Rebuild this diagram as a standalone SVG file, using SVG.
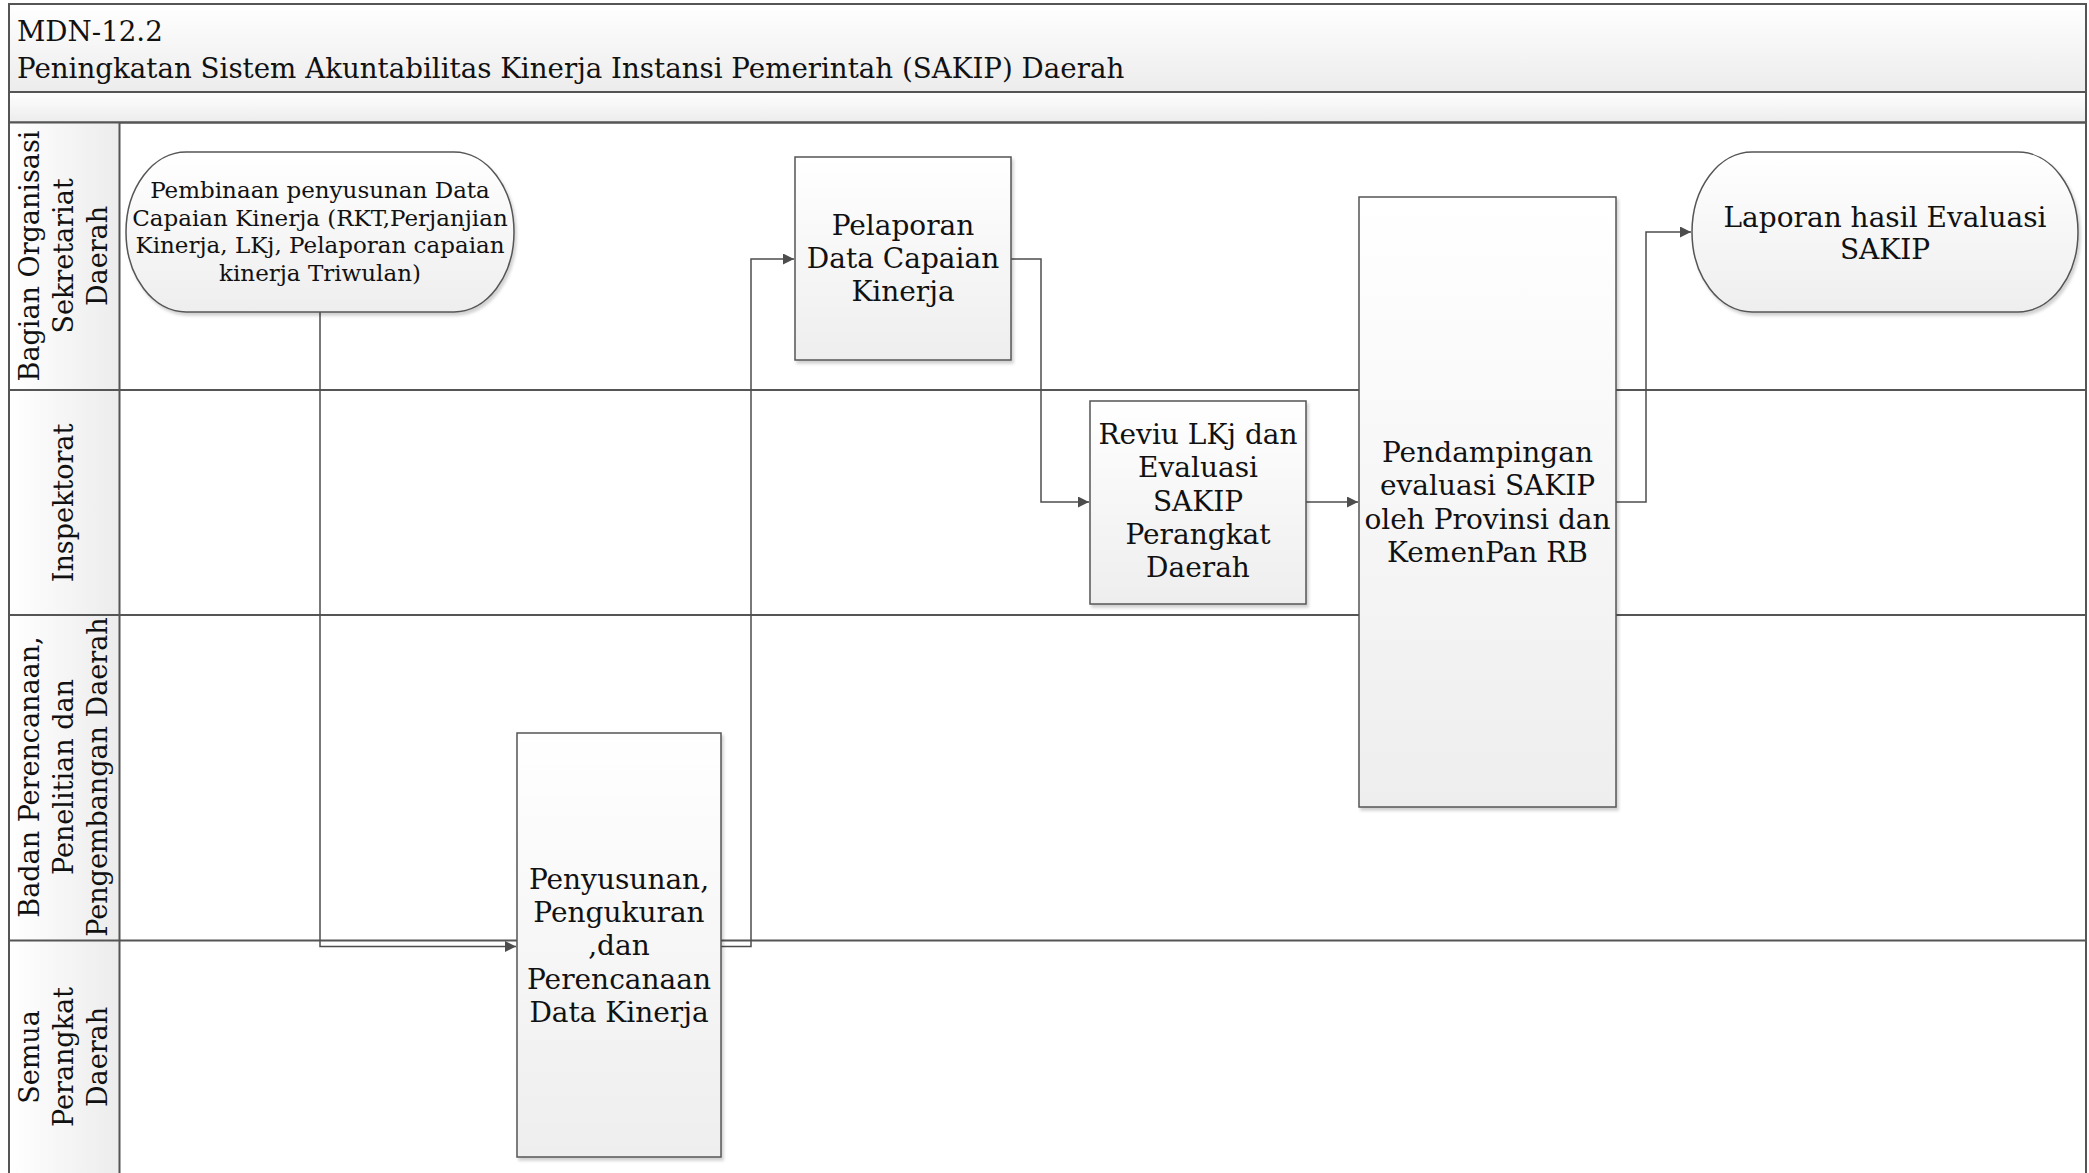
<svg xmlns="http://www.w3.org/2000/svg" width="2089" height="1173" viewBox="0 0 2089 1173">
<defs>
<linearGradient id="gV" x1="0" y1="0" x2="0" y2="1"><stop offset="0" stop-color="#ffffff"/><stop offset="1" stop-color="#ececec"/></linearGradient>
<linearGradient id="gH" x1="0" y1="0" x2="1" y2="0"><stop offset="0" stop-color="#ffffff"/><stop offset="1" stop-color="#ececec"/></linearGradient>
<linearGradient id="gBox" x1="0" y1="0" x2="0" y2="1"><stop offset="0" stop-color="#ffffff"/><stop offset="1" stop-color="#eeeeee"/></linearGradient>
<filter id="sh" x="-5%" y="-5%" width="115%" height="115%"><feDropShadow dx="2" dy="3" stdDeviation="1.5" flood-color="#000" flood-opacity="0.18"/></filter>
<marker id="arr" markerUnits="userSpaceOnUse" markerWidth="12" markerHeight="12" refX="11" refY="5.5" orient="auto"><path d="M0,0 L11,5.5 L0,11 z" fill="#4d4d4d"/></marker>
<style>
.frame{fill:none;stroke:#555;stroke-width:2}
.lane{stroke:#555;stroke-width:2;fill:none}
.box{fill:url(#gBox);stroke:#555;stroke-width:1.5;filter:url(#sh)}
.conn{fill:none;stroke:#4d4d4d;stroke-width:1.5;marker-end:url(#arr)}
.t{font-family:"DejaVu Serif","Liberation Serif",serif;fill:#111}
.n{font-size:28px;text-anchor:middle}
.s{font-size:23px;text-anchor:middle}
.l{font-size:27px;text-anchor:middle}
.h{font-size:27.7px}
</style>
</defs>
<rect width="2089" height="1173" fill="#ffffff"/>
<g id="header">
<rect x="9" y="4" width="2077" height="88" fill="url(#gV)" stroke="#555" stroke-width="2"/>
<rect x="9" y="92" width="2077" height="30.5" fill="url(#gV)" stroke="#555" stroke-width="2"/>
<text class="t h" x="17" y="41">MDN-12.2</text>
<text class="t h" x="17" y="78">Peningkatan Sistem Akuntabilitas Kinerja Instansi Pemerintah (SAKIP) Daerah</text>
</g>
<g id="lanes">
<rect x="9" y="122.5" width="110.5" height="1060" fill="url(#gH)"/>
<rect x="9" y="122.5" width="2077" height="1060" class="frame"/>
<line x1="119.5" y1="122.5" x2="119.5" y2="1180" class="lane"/>
<line x1="9" y1="390" x2="2086" y2="390" class="lane"/>
<line x1="9" y1="615" x2="2086" y2="615" class="lane"/>
<line x1="9" y1="940.5" x2="2086" y2="940.5" class="lane"/>
<g id="lane1" transform="translate(0,256) rotate(-90)">
<text class="t l" x="0" y="39">Bagian Organisasi</text>
<text class="t l" x="0" y="73">Sekretariat</text>
<text class="t l" x="0" y="107">Daerah</text>
</g>
<g id="lane2" transform="translate(0,503) rotate(-90)">
<text class="t l" x="0" y="73">Inspektorat</text>
</g>
<g id="lane3" transform="translate(0,777) rotate(-90)">
<text class="t l" x="0" y="39">Badan Perencanaan,</text>
<text class="t l" x="0" y="73">Penelitian dan</text>
<text class="t l" x="0" y="107">Pengembangan Daerah</text>
</g>
<g id="lane4" transform="translate(0,1057) rotate(-90)">
<text class="t l" x="0" y="39">Semua</text>
<text class="t l" x="0" y="73">Perangkat</text>
<text class="t l" x="0" y="107">Daerah</text>
</g>
</g>
<g id="connectors">
<path class="conn" d="M320,312 V946.5 H516"/>
<path class="conn" d="M721,946.5 H751 V259 H794"/>
<path class="conn" d="M1011,259 H1041 V502 H1089"/>
<path class="conn" d="M1306,502 H1358"/>
<path class="conn" d="M1616,502 H1646 V232 H1691"/>
</g>
<g id="n1">
<rect class="box" x="126" y="152" width="388" height="160" rx="60" ry="80"/>
<text class="t s" x="320" y="198">Pembinaan penyusunan Data</text>
<text class="t s" x="320" y="225.5">Capaian Kinerja (RKT,Perjanjian</text>
<text class="t s" x="320" y="253">Kinerja, LKj, Pelaporan capaian</text>
<text class="t s" x="320" y="280.5">kinerja Triwulan)</text>
</g>
<g id="n2">
<rect class="box" x="795" y="157" width="216" height="203"/>
<text class="t n" x="903" y="235">Pelaporan</text>
<text class="t n" x="903" y="268">Data Capaian</text>
<text class="t n" x="903" y="301">Kinerja</text>
</g>
<g id="n3">
<rect class="box" x="1090" y="401" width="216" height="203"/>
<text class="t n" x="1198" y="444">Reviu LKj dan</text>
<text class="t n" x="1198" y="477">Evaluasi</text>
<text class="t n" x="1198" y="511">SAKIP</text>
<text class="t n" x="1198" y="544">Perangkat</text>
<text class="t n" x="1198" y="577">Daerah</text>
</g>
<g id="n4">
<rect class="box" x="1359" y="197" width="257" height="610"/>
<text class="t n" x="1487.5" y="462">Pendampingan</text>
<text class="t n" x="1487.5" y="495">evaluasi SAKIP</text>
<text class="t n" x="1487.5" y="528.5">oleh Provinsi dan</text>
<text class="t n" x="1487.5" y="562">KemenPan RB</text>
</g>
<g id="n5">
<rect class="box" x="1692" y="152" width="386" height="160" rx="60" ry="80"/>
<text class="t n" x="1885" y="227">Laporan hasil Evaluasi</text>
<text class="t n" x="1885" y="259">SAKIP</text>
</g>
<g id="n6">
<rect class="box" x="517" y="733" width="204" height="424"/>
<text class="t n" x="619" y="889">Penyusunan,</text>
<text class="t n" x="619" y="922">Pengukuran</text>
<text class="t n" x="619" y="955">,dan</text>
<text class="t n" x="619" y="989">Perencanaan</text>
<text class="t n" x="619" y="1022">Data Kinerja</text>
</g>
</svg>
